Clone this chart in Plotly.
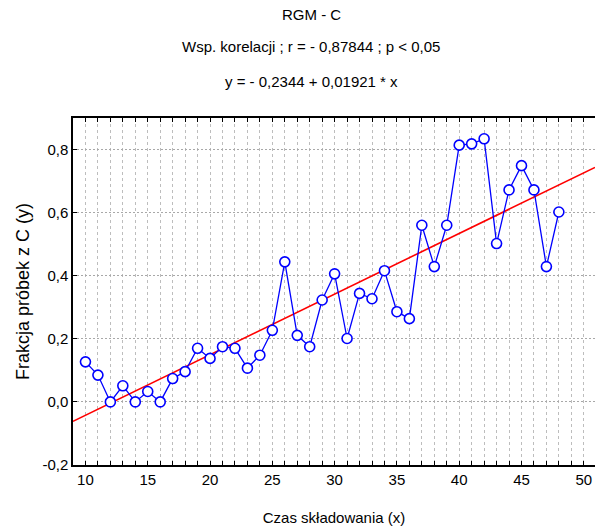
import plotly.graph_objects as go

x_vals = list(range(10, 49))
y_vals = [0.127, 0.085, 0.0, 0.051, 0.0, 0.033, 0.0, 0.074, 0.096, 0.170,
          0.138, 0.175, 0.170, 0.107, 0.148, 0.227, 0.444, 0.211, 0.175, 0.323,
          0.406, 0.201, 0.344, 0.327, 0.416, 0.286, 0.264, 0.560, 0.429, 0.560,
          0.814, 0.818, 0.834, 0.502, 0.672, 0.749, 0.672, 0.429, 0.602]
intercept = -0.2344
slope = 0.01921
x_range = [9.0, 50.9]
y_range = [-0.2, 0.9]
x_ticks = [10, 15, 20, 25, 30, 35, 40, 45, 50]
y_ticks = [-0.2, 0.0, 0.2, 0.4, 0.6, 0.8]
y_tick_text = ["-0,2", "0,0", "0,2", "0,4", "0,6", "0,8"]
title_lines = ["RGM - C", "Wsp. korelacji ; r = - 0,87844 ; p < 0,05", "y = - 0,2344 + 0,01921 * x"]

FONT = "Liberation Sans Narrow, Arial Narrow, Liberation Sans, Arial"
GRID = "#bdbdbd"

fig = go.Figure()
fig.add_trace(go.Scatter(
    x=x_range, y=[intercept + slope * v for v in x_range],
    mode="lines", line=dict(color="#ff0000", width=1.6), hoverinfo="skip"))
fig.add_trace(go.Scatter(
    x=x_vals, y=y_vals, mode="lines+markers",
    line=dict(color="#0000ff", width=1.3),
    marker=dict(symbol="circle", size=10, color="white",
                line=dict(width=1.6, color="#0000ff"))))

fig.update_layout(
    width=595, height=530,
    margin=dict(l=73, r=0, t=118, b=65),
    paper_bgcolor="white", plot_bgcolor="white",
    showlegend=False,
    font=dict(family=FONT, size=14, color="black"),
    xaxis=dict(
        range=x_range, tickvals=x_ticks, ticks="inside", ticklen=4, tickcolor="black",
        showline=True, linecolor="black", linewidth=1.5, mirror="ticks",
        showgrid=True, gridcolor=GRID, griddash="3px,3px", gridwidth=1,
        minor=dict(dtick=1, tick0=0, ticks="inside", ticklen=4, tickcolor="black",
                   showgrid=True, gridcolor=GRID, griddash="3px,3px", gridwidth=1),
        zeroline=False, tickfont=dict(family=FONT, size=15),
        title=dict(text="Czas składowania (x)", font=dict(family=FONT, size=15), standoff=26),
    ),
    yaxis=dict(
        range=y_range, tickvals=y_ticks, ticktext=y_tick_text, ticks="inside", ticklen=4,
        tickcolor="black", showline=True, linecolor="black", linewidth=1.5,
        showgrid=True, gridcolor="#a8a8a8", griddash="2px,2px", gridwidth=1,
        zeroline=False, tickfont=dict(family=FONT, size=15),
        title=dict(text="Frakcja próbek z C (y)", font=dict(family="Liberation Sans, Arial", size=18), standoff=8),
    ),
)

ys = [15, 47, 82]
for txt, yp in zip(title_lines, ys):
    fig.add_annotation(text=txt, xref="paper", yref="paper",
                       x=(311 - 73) / 522, y=(530 - 65 - yp) / (530 - 118 - 65),
                       showarrow=False, xanchor="center", yanchor="middle",
                       font=dict(family=FONT, size=15, color="black"))

fig.write_html("out.html")
